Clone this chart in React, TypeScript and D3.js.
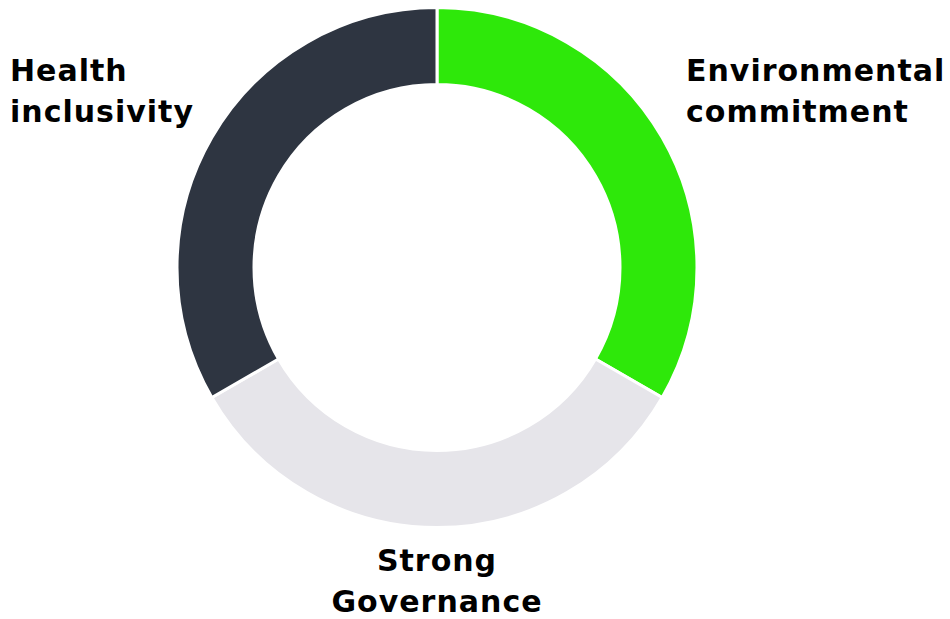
import React from "react";
import * as d3 from "d3";

const categories = ["Environmental commitment", "Strong Governance", "Health inclusivity"];
const values = [1, 1, 1];
const colors = ["#2EE80A", "#E6E5EA", "#2E3541"];
const labelLines = [["Environmental", "commitment"], ["Strong", "Governance"], ["Health", "inclusivity"]];

const W = 950, H = 619;
const cx = 437, cy = 267.5, R = 260, r = 183;

export default function App() {
  const pie = d3.pie<number>().sort(null).value((d) => d)(values);
  const arc = d3.arc<d3.PieArcDatum<number>>().innerRadius(r).outerRadius(R);
  const labelPos = [
    { x: cx + 249, y: cy - 187, anchor: "start" },
    { x: cx, y: cy + 303, anchor: "middle" },
    { x: 10, y: cy - 187, anchor: "start" },
  ];
  return (
    <svg width={W} height={H} style={{ position: "absolute", left: 0, top: 0 }}>
      <g transform={`translate(${cx},${cy})`}>
        {pie.map((p, i) => (
          <path key={categories[i]} d={arc(p) || ""} fill={colors[i]} stroke="#fff" strokeWidth={3} />
        ))}
      </g>
      {labelLines.map((lines, i) => (
        <text
          key={i}
          x={labelPos[i].x}
          y={labelPos[i].y}
          textAnchor={labelPos[i].anchor as any}
          fontFamily="DejaVu Sans, Verdana, sans-serif"
          fontWeight="bold"
          fontSize={30}
          letterSpacing={1}
          fill="#000"
        >
          {lines.map((l, j) => (
            <tspan key={j} x={labelPos[i].x} dy={j === 0 ? 0 : 41}>
              {l}
            </tspan>
          ))}
        </text>
      ))}
    </svg>
  );
}
